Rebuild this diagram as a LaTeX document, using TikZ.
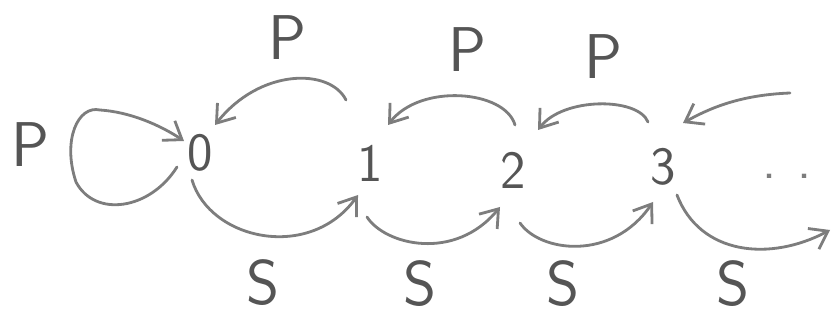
\documentclass[tikz,border=0pt]{standalone}
\usetikzlibrary{arrows.meta}
\definecolor{pen}{RGB}{125,125,125}
\definecolor{ink}{RGB}{85,85,85}
\begin{document}
\begin{tikzpicture}[x=0.03cm,y=-0.03cm,
  state/.style={inner sep=0pt,text=ink,font=\sffamily\fontsize{46}{50}\selectfont},
  lbl/.style={inner sep=0pt,text=ink,font=\sffamily\fontsize{54}{58}\selectfont},
  edge/.style={draw=pen,line width=2.4pt,line cap=round,
    -{Straight Barb[length=14pt,width=20pt,line width=2.4pt]}}]
\useasboundingbox (0,0) rectangle (834,320);
% states
\node[state] (n0) at (200,153) {0};
\node[state] (n1) at (370,163) {1};
\node[state] (n2) at (513,170) {2};
\node[state] (n3) at (663,167) {3};
\node[state,text=pen] (dots) at (787,176) {.\hspace{18pt}.};
% labels
\node[lbl] (pl) at (30,145) {P};
\node[lbl] (p01) at (287,38) {P};
\node[lbl] (p12) at (467,50) {P};
\node[lbl] (p23) at (603,57) {P};
\node[lbl] (s01) at (263,283) {S};
\node[lbl] (s12) at (420,284) {S};
\node[lbl] (s23) at (563,284) {S};
\node[lbl] (s3x) at (733,284) {S};
% P transitions (back)
\draw[edge] ([shift={(-24,-63)}]n1.center) .. controls ([shift={(-40,-95)}]n1.center) and ([shift={(60,-85)}]n0.center) .. ([shift={(15,-28)}]n0.center);
\draw[edge] ([shift={(2,-45)}]n2.center) .. controls ([shift={(-8,-80)}]n2.center) and ([shift={(50,-80)}]n1.center) .. ([shift={(18,-38)}]n1.center);
\draw[edge] ([shift={(-15,-45)}]n3.center) .. controls ([shift={(-25,-70)}]n3.center) and ([shift={(-100,-70)}]n3.center) .. ([shift={(25,-40)}]n2.center);
\coordinate (inR) at (790,93);
\draw[edge] (inR) .. controls (740,95) and (710,108) .. ([shift={(20,-44)}]n3.center);
% self loop on 0
\draw[edge] ([shift={(-23,14)}]n0.center) .. controls (150,210) and (95,218) .. (76,182)
  .. controls (62,140) and (78,105) .. (100,110)
  .. controls (130,112) and (160,125) .. ([shift={(-16,-12)}]n0.center);
% S transitions (forward)
\draw[edge] ([shift={(-8,27)}]n0.center) .. controls (210,240) and (310,262) .. ([shift={(-12,32)}]n1.center);
\draw[edge] ([shift={(-3,54)}]n1.center) .. controls (385,245) and (455,262) .. ([shift={(-13,37)}]n2.center);
\draw[edge] ([shift={(7,53)}]n2.center) .. controls (540,252) and (612,262) .. ([shift={(-10,35)}]n3.center);
\coordinate (outR) at (830,230);
\draw[edge] ([shift={(14,28)}]n3.center) .. controls (700,255) and (770,262) .. (outR);
\end{tikzpicture}
\end{document}
